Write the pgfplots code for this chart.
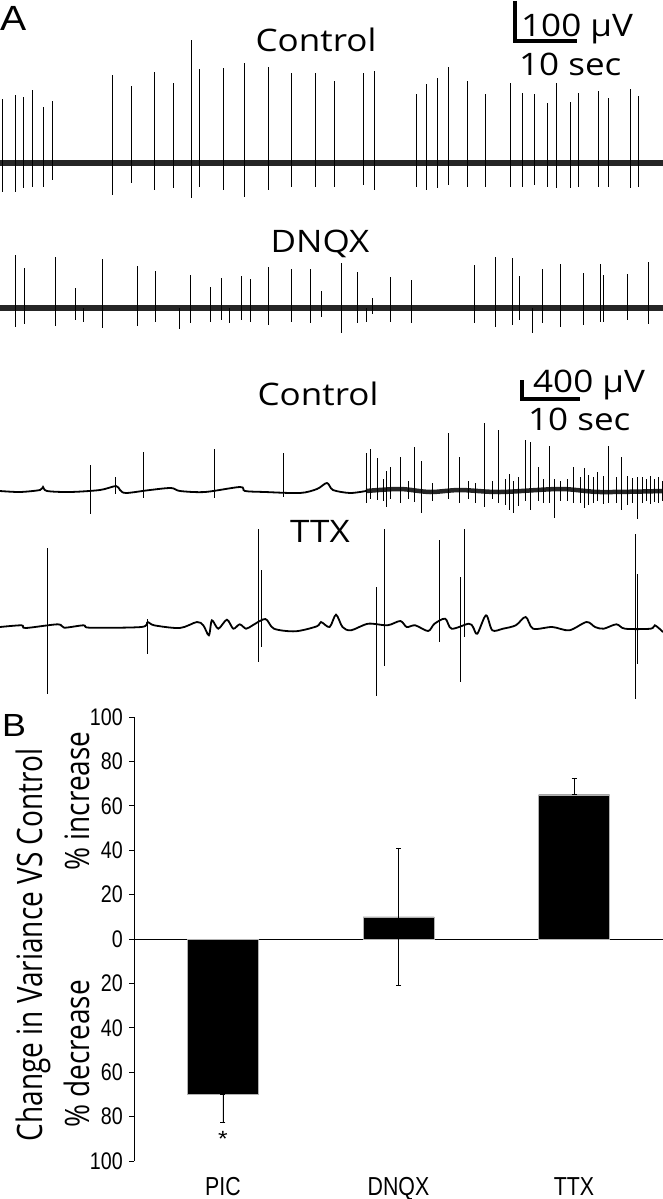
\documentclass[border=0pt]{standalone}
\usepackage{fontspec}
\usepackage{graphicx}
\usepackage{pgfplots}
\pgfplotsset{compat=1.18}
\newfontfamily\osans[FakeStretch=1.13]{Open Sans}
\newfontfamily\osansN{Open Sans}
\newfontfamily\narrow[FakeStretch=0.82]{Liberation Sans}
\newfontfamily\lsans[FakeStretch=1.12]{Liberation Sans}

% every trace: 1 unit = 1pt, x across the whole width, y relative to the baseline
\pgfplotsset{
  trace/.style={hide axis, scale only axis, anchor=south west,
    width=663pt, height=210pt, xmin=0, xmax=663, ymin=-80, ymax=130, clip=false},
  spike/.style={ycomb, black, line width=1pt, mark=none},
  noise/.style={black!85, line width=5.5pt},
}
\newcommand{\ttl}{\osans\fontsize{31}{31}\selectfont}

\begin{document}
\begin{tikzpicture}
\path[use as bounding box] (0pt,0pt) rectangle (663pt,-1199pt);

% ---------------- panel A ----------------
\node[anchor=base west, inner sep=0pt, font=\lsans\fontsize{35}{35}\selectfont] at (0pt,-31pt) {A};

% trace 1: Control (100 uV)
\begin{axis}[trace, at={(0pt,-243pt)}]
\addplot[noise] coordinates {(0,0) (663,0)};
\addplot[spike] table[x=x, y=up] {
x up dn
2.1 64 -29
15.4 68 -29
23.1 66 -25
32.1 73 -24
43.2 56 -24
52.2 62 -17
112.2 88 -32
131.0 77 -20
154.5 91 -27
173.4 80 -25
191.4 123 -35
199.5 94 -24
223.5 95 -27
244.9 100 -34
268.4 96 -27
291.5 90 -24
315.9 90 -24
334.8 82 -24
363.0 90 -22
374.1 92 -27
416.5 69 -24
426.0 79 -27
437.1 85 -25
448.6 96 -22
467.0 82 -24
485.9 69 -24
510.3 80 -24
522.3 70 -24
534.2 69 -22
547.1 60 -24
556.9 80 -25
570.2 61 -25
578.8 70 -24
598.0 72 -24
608.7 65 -24
630.1 74 -25
638.7 67 -24
};
\addplot[spike] table[x=x, y=dn] {
x up dn
2.1 64 -29
15.4 68 -29
23.1 66 -25
32.1 73 -24
43.2 56 -24
52.2 62 -17
112.2 88 -32
131.0 77 -20
154.5 91 -27
173.4 80 -25
191.4 123 -35
199.5 94 -24
223.5 95 -27
244.9 100 -34
268.4 96 -27
291.5 90 -24
315.9 90 -24
334.8 82 -24
363.0 90 -22
374.1 92 -27
416.5 69 -24
426.0 79 -27
437.1 85 -25
448.6 96 -22
467.0 82 -24
485.9 69 -24
510.3 80 -24
522.3 70 -24
534.2 69 -22
547.1 60 -24
556.9 80 -25
570.2 61 -25
578.8 70 -24
598.0 72 -24
608.7 65 -24
630.1 74 -25
638.7 67 -24
};
\end{axis}

% trace 2: DNQX
\begin{axis}[trace, at={(0pt,-388pt)}]
\addplot[noise] coordinates {(0,0) (663,0)};
\addplot[spike] table[x=x, y=up] {
x up dn
15.0 53 -19
24.8 40 -16
55.7 51 -18
75.3 20 -12
102.7 49 -20
137.0 42 -18
155.8 37 -14
190.0 33 -15
210.2 21 -14
221.7 30 -12
241.4 32 -12
250.9 29 -14
268.8 41 -17
291.1 39 -14
310.8 39 -15
321.5 17 -9
341.2 45 -25
357.4 36 -15
372.9 10 -6
390.8 31 -14
411.8 28 -15
474.7 43 -15
495.3 51 -19
512.0 50 -17
519.3 32 -12
542.8 39 -15
560.8 44 -19
583.0 35 -17
600.2 44 -14
603.6 33 -14
627.1 34 -12
648.1 46 -16
};
\addplot[spike] table[x=x, y=dn] {
x up dn
15.0 53 -19
24.8 40 -16
55.7 51 -18
75.3 20 -12
83.9 0 -14
102.7 49 -20
137.0 42 -18
155.8 37 -14
179.4 0 -21
190.0 33 -15
210.2 21 -14
221.7 30 -12
229.9 0 -15
241.4 32 -12
250.9 29 -14
268.8 41 -17
291.1 39 -14
310.8 39 -15
321.5 17 -9
341.2 45 -25
357.4 36 -15
366.4 0 -14
372.9 10 -6
390.8 31 -14
411.8 28 -15
474.7 43 -15
495.3 51 -19
512.0 50 -17
519.3 32 -12
532.1 0 -25
542.8 39 -15
560.8 44 -19
583.0 35 -17
600.2 44 -14
603.6 33 -14
627.1 34 -12
648.1 46 -16
};
\end{axis}

% trace 3: Control (400 uV)
\begin{axis}[trace, at={(0pt,-571pt)}]
\addplot[black, line width=1.8pt, smooth, tension=0.5] coordinates {
(0,0) (20,-1) (40,1) (43,4) (47,0) (70,-1) (100,1) (116,5) (120,1) (126,-2)
(150,1) (171,3) (180,0) (205,-1) (240,4) (245,0) (265,-1) (300,-2) (317,2)
(327,8) (333,1) (350,-2) (366,0)};
\addplot[black!85, line width=4.5pt, smooth, tension=0.5] coordinates {
(366,0) (400,2) (430,-1) (460,1) (500,-1) (560,2) (600,-1) (663,0)};
\addplot[spike] table[x=x, y=up] {
x up dn
90.3 26 -23
115.6 14 -3
143.8 39 -7
214.5 42 -7
283.8 38 -6
366.9 38 -12
370.3 42 -8
377.6 33 -9
383.0 12 -10
386.6 20 -16
390.0 24 -8
400.3 34 -12
408.8 10 -8
414.4 44 -11
421.7 30 -22
432.0 8 -10
448.6 58 -8
459.3 34 -12
468.7 10 -8
475.0 8 -12
484.2 68 -16
492.0 10 -8
498.7 61 -12
505.0 12 -14
509.4 17 -19
513.7 10 -22
518.0 14 -15
525.3 51 -10
530.0 49 -19
538.5 24 -10
543.7 12 -12
549.7 45 -12
554.4 12 -27
560.8 10 -10
567.0 12 -10
573.6 24 -12
580.0 14 -12
584.3 23 -17
588.6 16 -14
593.0 14 -12
597.2 19 -10
603.6 15 -13
608.7 45 -12
616.4 14 -12
621.6 34 -19
627.0 15 -14
632.7 13 -12
637.4 14 -28
642.0 14 -12
646.0 12 -10
650.0 15 -13
654.0 12 -11
658.0 14 -12
662.0 10 -10
};
\addplot[spike] table[x=x, y=dn] {
x up dn
90.3 26 -23
115.6 14 -3
143.8 39 -7
214.5 42 -7
283.8 38 -6
366.9 38 -12
370.3 42 -8
377.6 33 -9
383.0 12 -10
386.6 20 -16
390.0 24 -8
400.3 34 -12
408.8 10 -8
414.4 44 -11
421.7 30 -22
432.0 8 -10
448.6 58 -8
459.3 34 -12
468.7 10 -8
475.0 8 -12
484.2 68 -16
492.0 10 -8
498.7 61 -12
505.0 12 -14
509.4 17 -19
513.7 10 -22
518.0 14 -15
525.3 51 -10
530.0 49 -19
538.5 24 -10
543.7 12 -12
549.7 45 -12
554.4 12 -27
560.8 10 -10
567.0 12 -10
573.6 24 -12
580.0 14 -12
584.3 23 -17
588.6 16 -14
593.0 14 -12
597.2 19 -10
603.6 15 -13
608.7 45 -12
616.4 14 -12
621.6 34 -19
627.0 15 -14
632.7 13 -12
637.4 14 -28
642.0 14 -12
646.0 12 -10
650.0 15 -13
654.0 12 -11
658.0 14 -12
662.0 10 -10
};
\end{axis}

% trace 4: TTX
\begin{axis}[trace, at={(0pt,-707pt)}]
\addplot[black, line width=1.8pt, smooth, tension=0.5] coordinates {
(0,0) (21.4,1.7) (25.7,-1) (57.8,2.7) (64.2,-0.7) (83.5,1.7) (89.9,-0.7)
(141.3,0) (147.7,5) (154.1,1.7) (179.8,-1) (196.9,5) (203.3,1.7) (208.9,-8.3)
(211.9,6.7) (218.3,-1.7) (226.9,7.3) (233.3,-1.7) (239.7,2.7) (246.1,-1.7)
(252.6,1.7) (265.4,8) (274,-1.7) (295.4,-4.3) (316.8,0.7) (321,5) (329.6,0)
(336,12.3) (342.5,0) (351,-3.3) (368.2,3.3) (387.4,1.7) (400.3,6) (406.7,0)
(415.2,1.7) (428.1,-4) (434.5,3.3) (445.2,8.3) (451.6,-1.7) (468.7,3.3) (473,0)
(477.3,-6.7) (486,11.7) (492.3,-3.3) (503,-1.7) (515.8,1.7) (525.7,10)
(533.1,-1.7) (552.2,0) (569.3,-3.3) (586.5,5) (595,0) (603.6,-1.7) (616.4,2.7)
(625,-1.7) (650.7,-1.7) (654.9,1.7) (663,-5)};
\addplot[spike, line width=1.1pt] table[x=x, y=up] {
x up dn
47.9 79 -67
147.7 8 -27
258.1 98 -35
261.1 57 -20
376.7 40 -69
384.4 98 -39
439.6 87 -15
460.6 50 -55
464.5 98 -10
635.3 93 -72
637.8 53 -37
};
\addplot[spike, line width=1.1pt] table[x=x, y=dn] {
x up dn
47.9 79 -67
147.7 8 -27
258.1 98 -35
261.1 57 -20
376.7 40 -69
384.4 98 -39
439.6 87 -15
460.6 50 -55
464.5 98 -10
635.3 93 -72
637.8 53 -37
};
\end{axis}

% titles and scale bars
\node[anchor=base, inner sep=0pt, font=\ttl] at (316pt,-52pt) {Control};
\node[anchor=base, inner sep=0pt, font=\ttl] at (320pt,-252pt) {DNQX};
\node[anchor=base, inner sep=0pt, font=\ttl] at (318pt,-405pt) {Control};
\node[anchor=base, inner sep=0pt, font=\ttl] at (320pt,-542pt) {TTX};

\draw[line width=4pt, line join=miter] (515pt,-1pt) -- (515pt,-41pt) -- (577pt,-41pt);
\node[anchor=base west, inner sep=0pt, font=\ttl] at (521pt,-37pt) {100 µV};
\node[anchor=base west, inner sep=0pt, font=\ttl] at (519pt,-75pt) {10 sec};

\draw[line width=4pt, line join=miter] (522pt,-380pt) -- (522pt,-399pt) -- (580pt,-399pt);
\node[anchor=base west, inner sep=0pt, font=\ttl] at (533pt,-392pt) {400 µV};
\node[anchor=base west, inner sep=0pt, font=\ttl] at (528pt,-430pt) {10 sec};

% ---------------- panel B ----------------
\node[anchor=base west, inner sep=0pt, font=\lsans\fontsize{32}{32}\selectfont] at (2pt,-736pt) {B};

\node[rotate=90, inner sep=0pt] at (33pt,-945pt)
  {\scalebox{1}[1.25]{\osansN\fontsize{28}{28}\selectfont Change in Variance VS Control}};
\node[rotate=90, inner sep=0pt] at (77pt,-801pt)
  {\scalebox{1}[1.2]{\osansN\fontsize{28}{28}\selectfont \% increase}};
\node[rotate=90, inner sep=0pt] at (77pt,-1054pt)
  {\scalebox{1}[1.2]{\osansN\fontsize{28}{28}\selectfont \% decrease}};

\begin{axis}[
  at={(134pt,-1161pt)}, anchor=south west, scale only axis,
  width=529pt, height=444pt,
  xmin=0.493, xmax=3.507, ymin=-100, ymax=100,
  axis y line=left, axis x line*=bottom,
  x axis line style={draw=none},
  y axis line style={-, line width=0.8pt},
  ytick={-100,-80,...,100},
  yticklabels={100,80,60,40,20,0,20,40,60,80,100},
  xtick={1,2,3}, xticklabels={PIC,DNQX,TTX},
  x tick style={draw=none},
  y tick style={black, line width=0.8pt},
  tick align=outside, major tick length=5pt,
  yticklabel style={font=\narrow\fontsize{24}{24}\selectfont, inner sep=0pt, xshift=-6pt},
  xticklabel style={font=\narrow\fontsize{26}{26}\selectfont, anchor=base, yshift=-29pt},
  clip=false,
]
\draw[line width=0.8pt] (axis cs:0.493,0) -- (axis cs:3.507,0);
\addplot[ybar, bar width=71pt, fill=black, draw=gray!60,
  error bars/.cd, y dir=both, y explicit,
  error bar style={black, line width=0.8pt},
  error mark options={rotate=90, mark size=2.5pt, line width=0.8pt, black}]
  coordinates {(1,-70) += (0,0) -= (0,12.4)
               (2,10) +- (0,31)
               (3,65) += (0,7.5) -= (0,0)};
\node[font=\lsans\fontsize{22}{22}\selectfont] at (axis cs:1,-90) {*};
\end{axis}
\end{tikzpicture}
\end{document}
